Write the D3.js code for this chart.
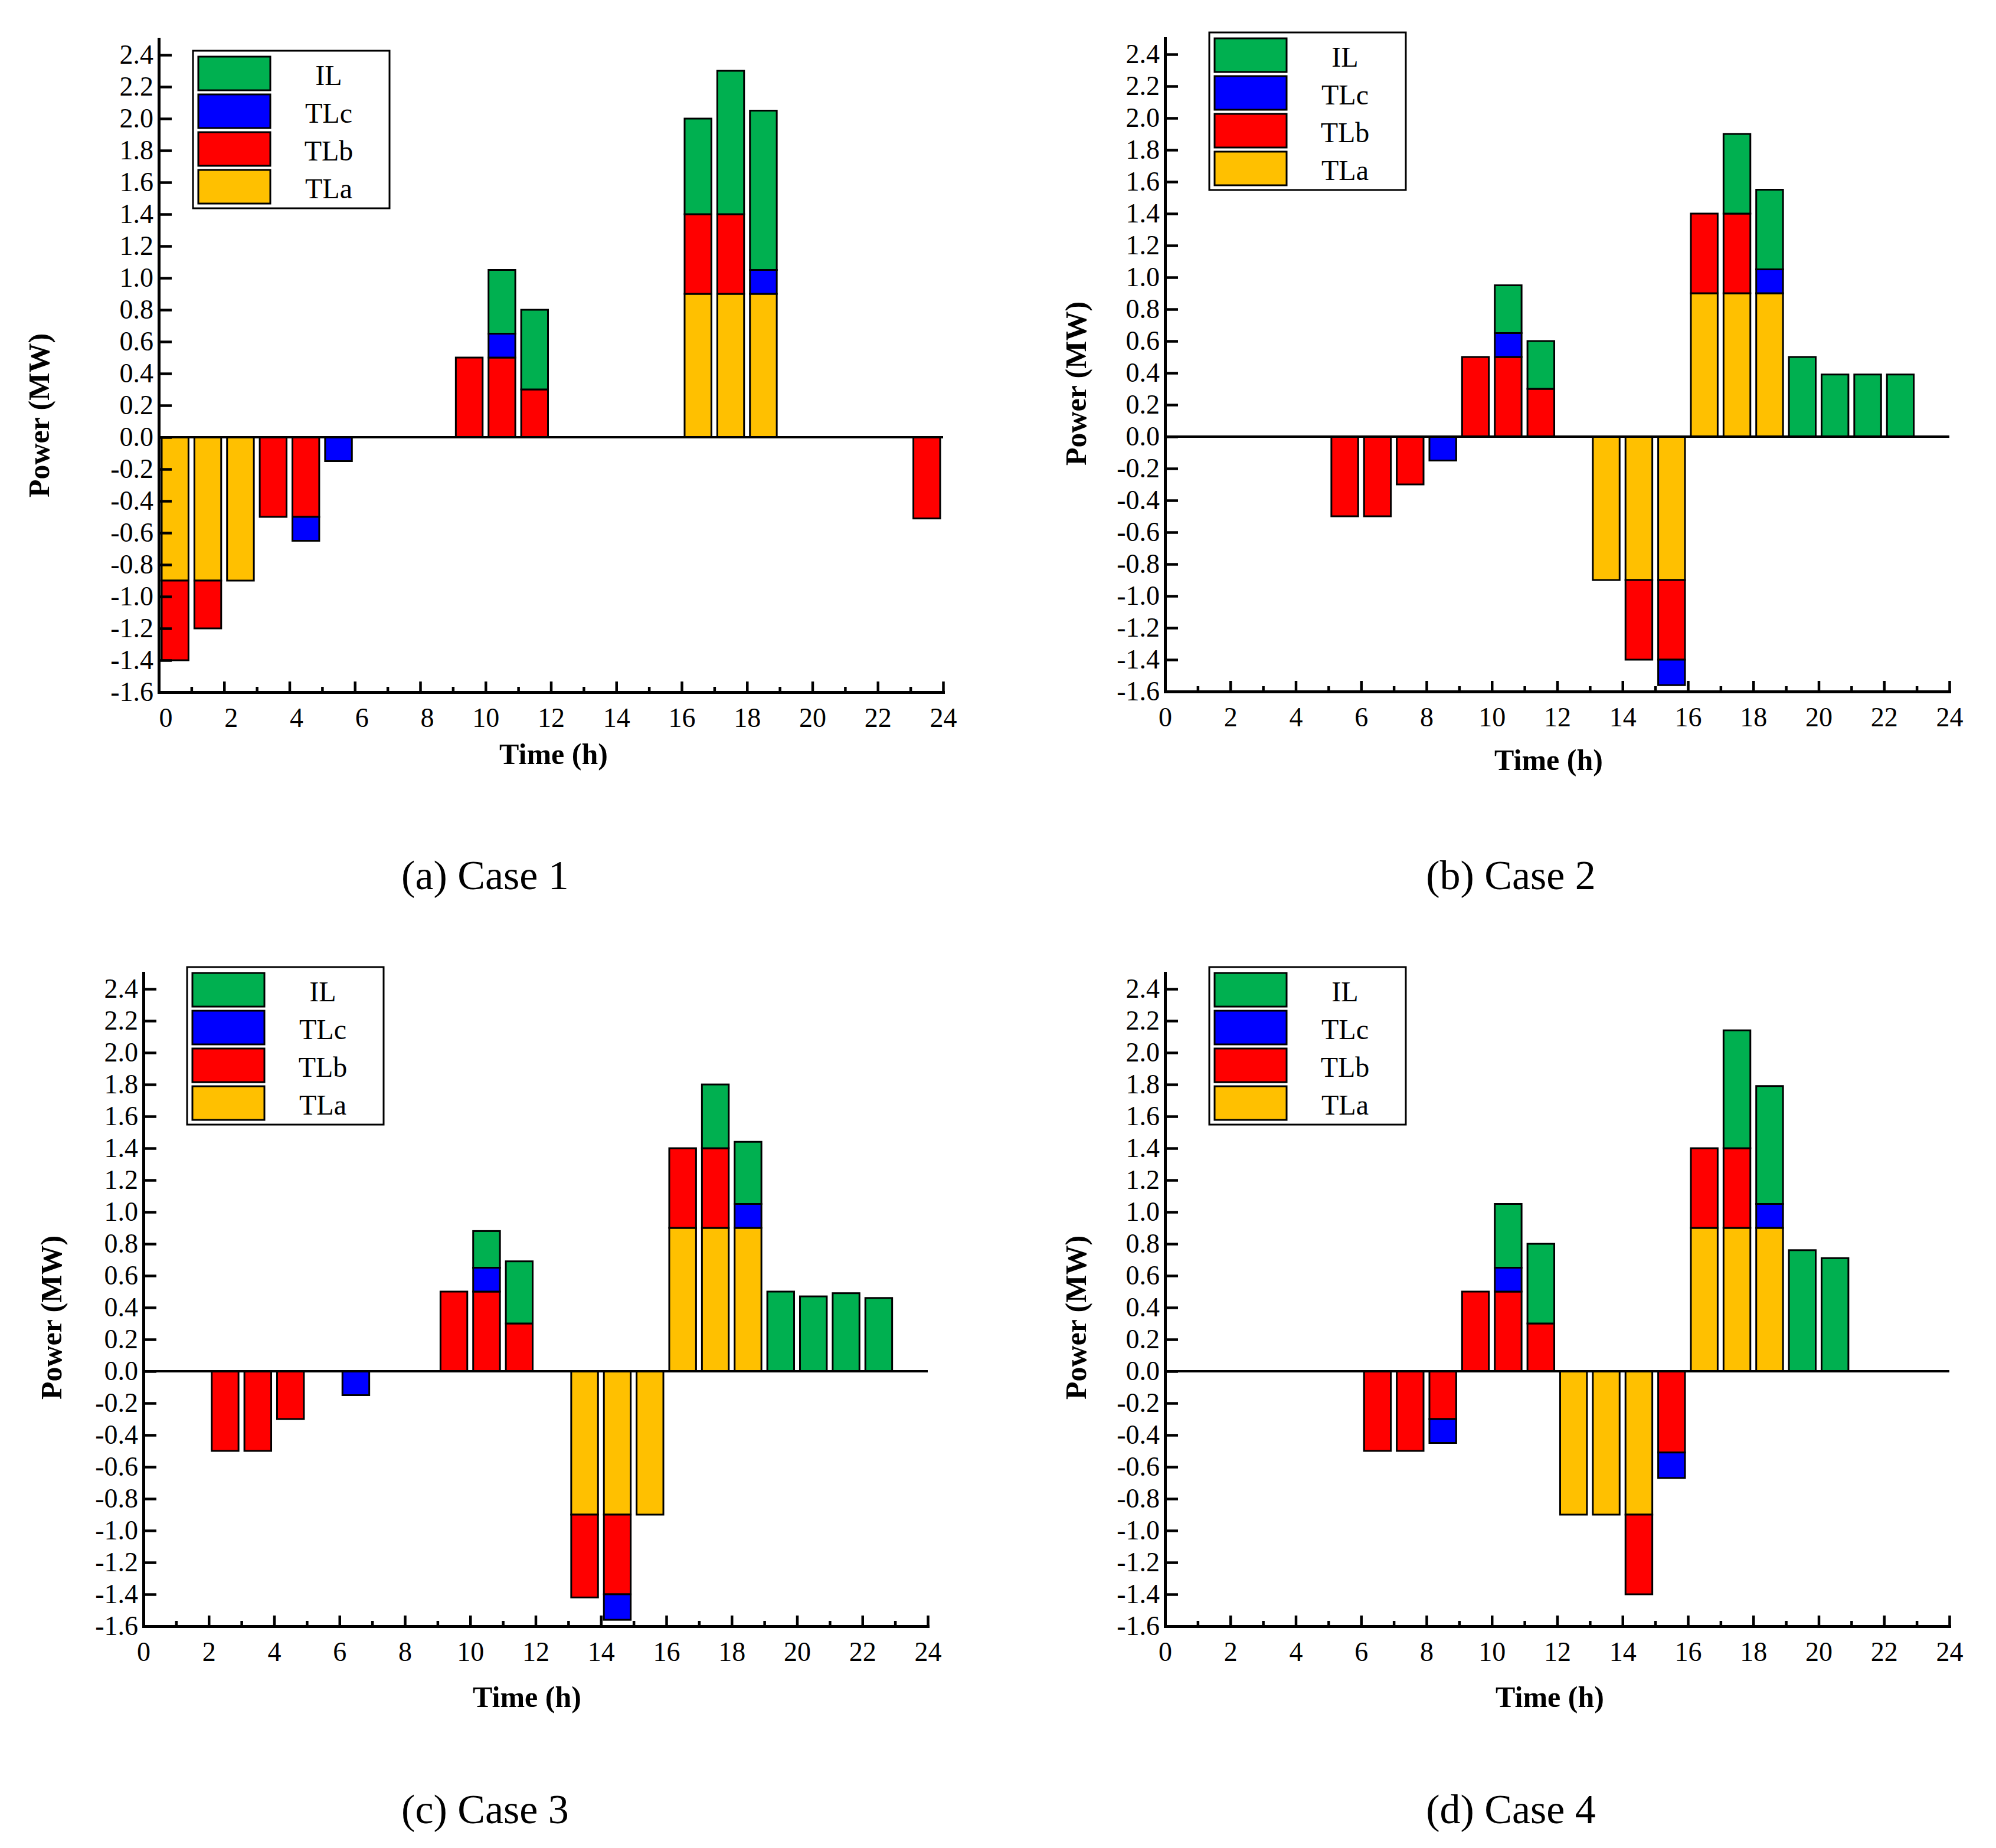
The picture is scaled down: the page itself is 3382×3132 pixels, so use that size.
<!DOCTYPE html>
<html>
<head>
<meta charset="utf-8">
<script src="https://cdn.jsdelivr.net/npm/d3@7"></script>
<style>
  body { margin: 0; background: #fff; }
  svg { display: block; }
  text { font-family: "Liberation Serif", "Times New Roman", serif; }
</style>
</head>
<body>
<script>
// categories / ticks
const hours = [0,1,2,3,4,5,6,7,8,9,10,11,12,13,14,15,16,17,18,19,20,21,22,23];
const keys = ['TLa', 'TLb', 'TLc', 'IL'];           // stacking order, from zero outwards
const legendOrder = ['IL', 'TLc', 'TLb', 'TLa'];    // top to bottom in legend
const colors = {TLa: '#FFC000', TLb: '#FF0000', TLc: '#0000FF', IL: '#00B050'};
const yTicks = [-1.6,-1.4,-1.2,-1.0,-0.8,-0.6,-0.4,-0.2,0.0,0.2,0.4,0.6,0.8,1.0,1.2,1.4,1.6,1.8,2.0,2.2,2.4];
const yTickLabels = ['-1.6','-1.4','-1.2','-1.0','-0.8','-0.6','-0.4','-0.2','0.0','0.2','0.4','0.6','0.8','1.0','1.2','1.4','1.6','1.8','2.0','2.2','2.4'];
const xMajor = [0,2,4,6,8,10,12,14,16,18,20,22,24];
const xMinor = [1,3,5,7,9,11,13,15,17,19,21,23];
const captions = ['(a) Case 1', '(b) Case 2', '(c) Case 3', '(d) Case 4'];

// Case 1 (MW per hour)
const case1TLa = [-0.9,-0.9,-0.9,0,0,0,0,0,0,0,0,0,0,0,0,0,0.9,0.9,0.9,0,0,0,0,0];
const case1TLb = [-0.5,-0.3,0,-0.5,-0.5,0,0,0,0,0.5,0.5,0.3,0,0,0,0,0.5,0.5,0,0,0,0,0,-0.51];
const case1TLc = [0,0,0,0,-0.15,-0.15,0,0,0,0,0.15,0,0,0,0,0,0,0,0.15,0,0,0,0,0];
const case1IL  = [0,0,0,0,0,0,0,0,0,0,0.4,0.5,0,0,0,0,0.6,0.9,1.0,0,0,0,0,0];

// Case 2
const case2TLa = [0,0,0,0,0,0,0,0,0,0,0,0,0,-0.9,-0.9,-0.9,0.9,0.9,0.9,0,0,0,0,0];
const case2TLb = [0,0,0,0,0,-0.5,-0.5,-0.3,0,0.5,0.5,0.3,0,0,-0.5,-0.5,0.5,0.5,0,0,0,0,0,0];
const case2TLc = [0,0,0,0,0,0,0,0,-0.15,0,0.15,0,0,0,0,-0.16,0,0,0.15,0,0,0,0,0];
const case2IL  = [0,0,0,0,0,0,0,0,0,0,0.3,0.3,0,0,0,0,0,0.5,0.5,0.5,0.39,0.39,0.39,0];

// Case 3
const case3TLa = [0,0,0,0,0,0,0,0,0,0,0,0,0,-0.9,-0.9,-0.9,0.9,0.9,0.9,0,0,0,0,0];
const case3TLb = [0,0,-0.5,-0.5,-0.3,0,0,0,0,0.5,0.5,0.3,0,-0.52,-0.5,0,0.5,0.5,0,0,0,0,0,0];
const case3TLc = [0,0,0,0,0,0,-0.15,0,0,0,0.15,0,0,0,-0.16,0,0,0,0.15,0,0,0,0,0];
const case3IL  = [0,0,0,0,0,0,0,0,0,0,0.23,0.39,0,0,0,0,0,0.4,0.39,0.5,0.47,0.49,0.46,0];

// Case 4
const case4TLa = [0,0,0,0,0,0,0,0,0,0,0,0,-0.9,-0.9,-0.9,0,0.9,0.9,0.9,0,0,0,0,0];
const case4TLb = [0,0,0,0,0,0,-0.5,-0.5,-0.3,0.5,0.5,0.3,0,0,-0.5,-0.51,0.5,0.5,0,0,0,0,0,0];
const case4TLc = [0,0,0,0,0,0,0,0,-0.15,0,0.15,0,0,0,0,-0.16,0,0,0.15,0,0,0,0,0];
const case4IL  = [0,0,0,0,0,0,0,0,0,0,0.4,0.5,0,0,0,0,0,0.74,0.74,0.76,0.71,0,0,0];

const caseData = [
  {TLa: case1TLa, TLb: case1TLb, TLc: case1TLc, IL: case1IL},
  {TLa: case2TLa, TLb: case2TLb, TLc: case2TLc, IL: case2IL},
  {TLa: case3TLa, TLb: case3TLb, TLc: case3TLc, IL: case3IL},
  {TLa: case4TLa, TLb: case4TLb, TLc: case4TLc, IL: case4IL}
];

// layout of the four panels (x0: y axis, y0: x axis)
const W = 3382, H = 3132;
const plotW = 1329, unitH = 270;
const panels = [
  {x0: 269,  y0: 1173, legDx: 58, legDy: -7,  powerX: 66,   powerY: 704,  timeX: 938,  timeY: 1295, capX: 822,  capY: 1507, endLabels: true},
  {x0: 1974, y0: 1172, legDx: 75, legDy: -37, powerX: 1823, powerY: 650,  timeX: 2624, timeY: 1305, capX: 2560, capY: 1507, endLabels: false},
  {x0: 243,  y0: 2756, legDx: 74, legDy: -37, powerX: 87,   powerY: 2233, timeX: 893,  timeY: 2893, capX: 822,  capY: 3090, endLabels: false},
  {x0: 1974, y0: 2756, legDx: 75, legDy: -37, powerX: 1823, powerY: 2233, timeX: 2626, timeY: 2893, capX: 2560, capY: 3090, endLabels: false}
];

const svg = d3.select('body').append('svg')
  .attr('width', W).attr('height', H)
  .attr('viewBox', `0 0 ${W} ${H}`);

function drawPanel(p, data, caption) {
  const g = svg.append('g');

  const x = d3.scaleLinear().domain([0, 24]).range([p.x0, p.x0 + plotW]);
  const xb = d3.scaleBand().domain(hours).range([p.x0, p.x0 + plotW])
    .paddingInner(0.18).paddingOuter(0.09);
  const y = d3.scaleLinear().domain([-1.6, 2.5]).range([p.y0, p.y0 - 4.1 * unitH]);

  // stacked bars, positives up and negatives down
  const rows = hours.map((h, i) => {
    const r = {hour: h};
    keys.forEach(k => r[k] = data[k][i]);
    return r;
  });
  const stacked = d3.stack().keys(keys).offset(d3.stackOffsetDiverging)(rows);

  g.append('g').attr('class', 'bars')
    .selectAll('g')
    .data(stacked)
    .join('g')
      .attr('fill', s => colors[s.key])
    .selectAll('rect')
    .data(s => s.filter(d => d[1] !== d[0]))
    .join('rect')
      .attr('x', d => xb(d.data.hour))
      .attr('width', xb.bandwidth())
      .attr('y', d => y(Math.max(d[0], d[1])))
      .attr('height', d => Math.abs(y(d[0]) - y(d[1])))
      .attr('stroke', '#000')
      .attr('stroke-width', 3);

  // zero line
  g.append('line')
    .attr('x1', x(0)).attr('x2', x(24))
    .attr('y1', y(0)).attr('y2', y(0))
    .attr('stroke', '#000').attr('stroke-width', 4);

  // y axis, ticks pointing inwards
  const yAxis = d3.axisLeft(y)
    .tickValues(yTicks)
    .tickFormat((d, i) => yTickLabels[i])
    .tickSizeInner(-22).tickSizeOuter(0).tickPadding(9);
  const gy = g.append('g').attr('transform', `translate(${p.x0},0)`).call(yAxis);
  styleAxis(gy);

  // x axis: major ticks with labels, minor ticks at odd hours
  const xAxis = d3.axisBottom(x)
    .tickValues(xMajor)
    .tickSizeInner(-18).tickSizeOuter(0).tickPadding(26);
  const gx = g.append('g').attr('transform', `translate(0,${p.y0})`).call(xAxis);
  styleAxis(gx);
  if (p.endLabels) {
    gx.selectAll('.tick text').attr('text-anchor', 'end').attr('dx', 23);
  }

  const xMinorAxis = d3.axisBottom(x)
    .tickValues(xMinor)
    .tickSizeInner(-9).tickSizeOuter(0).tickFormat('');
  const gxm = g.append('g').attr('transform', `translate(0,${p.y0})`).call(xMinorAxis);
  gxm.select('.domain').remove();
  gxm.selectAll('.tick line').attr('stroke-width', 4.5);

  // axis titles
  g.append('text')
    .attr('transform', `translate(${p.powerX},${p.powerY}) rotate(-90)`)
    .attr('text-anchor', 'middle')
    .attr('dominant-baseline', 'central')
    .attr('font-size', 50).attr('font-weight', 'bold')
    .text('Power (MW)');

  g.append('text')
    .attr('x', p.timeX).attr('y', p.timeY)
    .attr('text-anchor', 'middle')
    .attr('font-size', 50).attr('font-weight', 'bold')
    .text('Time (h)');

  g.append('text')
    .attr('x', p.capX).attr('y', p.capY)
    .attr('text-anchor', 'middle')
    .attr('font-size', 70)
    .text(caption);

  // legend
  const lx = p.x0 + p.legDx, ly = y(2.4) + p.legDy;
  const lg = g.append('g').attr('transform', `translate(${lx},${ly})`);
  lg.append('rect')
    .attr('width', 333).attr('height', 267)
    .attr('fill', '#fff').attr('stroke', '#000').attr('stroke-width', 3);
  const items = lg.selectAll('g.item')
    .data(legendOrder)
    .join('g').attr('class', 'item')
      .attr('transform', (d, i) => `translate(9,${10 + i * 64})`);
  items.append('rect')
    .attr('width', 122).attr('height', 57)
    .attr('fill', d => colors[d])
    .attr('stroke', '#000').attr('stroke-width', 3);
  items.append('text')
    .attr('x', 221).attr('y', 48)
    .attr('text-anchor', 'middle')
    .attr('font-size', 48)
    .text(d => d);
}

function styleAxis(sel) {
  sel.attr('font-size', null).attr('font-family', null);
  sel.select('.domain')
    .attr('stroke', '#000').attr('stroke-width', 5).attr('stroke-linecap', 'square');
  sel.selectAll('.tick line').attr('stroke', '#000').attr('stroke-width', 4.5);
  sel.selectAll('.tick text').attr('fill', '#000').attr('font-size', 46);
}

panels.forEach((p, i) => drawPanel(p, caseData[i], captions[i]));
</script>
</body>
</html>
